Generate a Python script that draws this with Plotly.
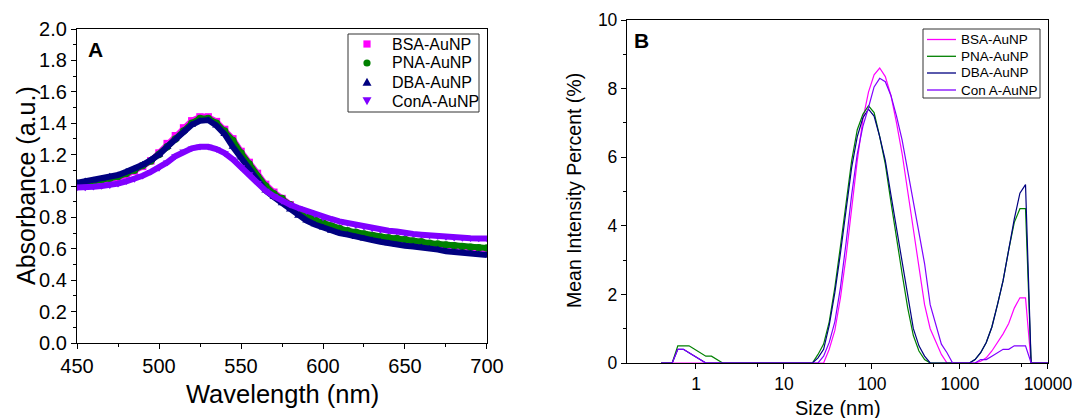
import plotly.graph_objects as go

# ---------------- Panel A data (UV-Vis absorbance) ----------------
wavelength = [450, 455, 460, 465, 470, 475, 480, 485, 490, 495,
              500, 505, 510, 515, 520, 525, 530, 535, 540, 545,
              550, 555, 560, 565, 570, 575, 580, 585, 590, 595,
              600, 605, 610, 615, 620, 625, 630, 635, 640, 645,
              650, 655, 660, 665, 670, 675, 680, 685, 690, 695, 700]

abs_bsa = [1.00, 1.01, 1.02, 1.03, 1.04, 1.055, 1.07, 1.095, 1.125, 1.16,
           1.21, 1.27, 1.32, 1.37, 1.415, 1.44, 1.44, 1.41, 1.36, 1.30,
           1.22, 1.15, 1.08, 1.01, 0.96, 0.92, 0.88, 0.84, 0.805, 0.78,
           0.76, 0.74, 0.725, 0.71, 0.70, 0.69, 0.68, 0.67, 0.665, 0.66,
           0.655, 0.645, 0.64, 0.63, 0.625, 0.62, 0.615, 0.61, 0.605, 0.60, 0.60]

abs_pna = [1.01, 1.02, 1.03, 1.04, 1.05, 1.06, 1.08, 1.10, 1.13, 1.16,
           1.20, 1.25, 1.30, 1.35, 1.40, 1.43, 1.43, 1.40, 1.35, 1.29,
           1.21, 1.14, 1.06, 1.00, 0.95, 0.92, 0.88, 0.84, 0.81, 0.785,
           0.765, 0.745, 0.73, 0.715, 0.705, 0.695, 0.685, 0.675, 0.67, 0.665,
           0.66, 0.65, 0.645, 0.635, 0.63, 0.625, 0.62, 0.615, 0.61, 0.607, 0.605]

abs_dba = [1.02, 1.03, 1.035, 1.045, 1.06, 1.07, 1.09, 1.11, 1.135, 1.165,
           1.20, 1.25, 1.30, 1.35, 1.39, 1.415, 1.42, 1.385, 1.33, 1.25,
           1.18, 1.11, 1.04, 0.97, 0.93, 0.89, 0.85, 0.81, 0.78, 0.755,
           0.735, 0.715, 0.70, 0.69, 0.675, 0.665, 0.655, 0.645, 0.635, 0.625,
           0.62, 0.615, 0.61, 0.60, 0.595, 0.585, 0.58, 0.575, 0.57, 0.565, 0.56]

abs_cona = [0.99, 0.99, 0.995, 1.00, 1.005, 1.015, 1.03, 1.045, 1.065, 1.09,
            1.115, 1.15, 1.19, 1.22, 1.24, 1.25, 1.25, 1.235, 1.21, 1.17,
            1.12, 1.075, 1.02, 0.97, 0.935, 0.905, 0.88, 0.86, 0.84, 0.82,
            0.80, 0.79, 0.775, 0.765, 0.75, 0.74, 0.73, 0.72, 0.715, 0.71,
            0.70, 0.695, 0.69, 0.685, 0.68, 0.675, 0.67, 0.668, 0.667, 0.666, 0.665]

# ---------------- Panel B data (DLS size distribution) ----------------
size_nm = [0.4, 0.4632, 0.5364, 0.6212, 0.7194, 0.8332, 0.9649, 1.117, 1.294, 1.499,
           1.736, 2.010, 2.328, 2.696, 3.122, 3.615, 4.187, 4.849, 5.615, 6.503,
           7.531, 8.721, 10.10, 11.70, 13.54, 15.69, 18.17, 21.04, 24.36, 28.21,
           32.67, 37.84, 43.82, 50.75, 58.77, 68.06, 78.82, 91.28, 105.7, 122.4,
           141.8, 164.2, 190.1, 220.2, 255.0, 295.3, 342.0, 396.1, 458.7, 531.2,
           615.1, 712.4, 825.0, 955.4, 1106, 1281, 1484, 1718, 1990, 2305,
           2669, 3091, 3580, 4145, 4801, 5560, 6439, 7456, 8635, 10000]

int_bsa = [0, 0, 0, 0, 0, 0, 0, 0, 0, 0,
           0, 0, 0, 0, 0, 0, 0, 0, 0, 0,
           0, 0, 0, 0, 0, 0, 0, 0, 0, 0,
           0.4, 0.95, 1.9, 3.1, 4.5, 5.9, 7.1, 7.9, 8.4, 8.6,
           8.35, 7.8, 7.0, 6.1, 5.0, 3.9, 2.8, 1.7, 1.0, 0.6,
           0.25, 0, 0, 0, 0, 0, 0, 0.05, 0.15, 0.35,
           0.6, 0.85, 1.15, 1.6, 1.9, 1.9, 0, 0, 0, 0]

int_pna = [0, 0, 0, 0.5, 0.5, 0.5, 0.4, 0.3, 0.2, 0.2,
           0.1, 0, 0, 0, 0, 0, 0, 0, 0, 0,
           0, 0, 0, 0, 0, 0, 0, 0, 0.25, 0.55,
           1.2, 2.2, 3.4, 4.7, 5.9, 6.8, 7.25, 7.5, 7.3, 6.6,
           5.8, 4.7, 3.6, 2.6, 1.6, 0.8, 0.35, 0.1, 0, 0,
           0, 0, 0, 0, 0, 0, 0.1, 0.3, 0.6, 1.05,
           1.7, 2.4, 3.3, 4.1, 4.5, 4.5, 0, 0, 0, 0]

int_dba = [0, 0, 0, 0.4, 0.4, 0.3, 0.2, 0.1, 0, 0,
           0, 0, 0, 0, 0, 0, 0, 0, 0, 0,
           0, 0, 0, 0, 0, 0, 0, 0, 0.15, 0.4,
           1.1, 2.05, 3.2, 4.5, 5.7, 6.6, 7.15, 7.4, 7.2, 6.6,
           5.9, 4.9, 3.9, 2.9, 1.9, 1.0, 0.5, 0.2, 0, 0,
           0, 0, 0, 0, 0, 0, 0.1, 0.3, 0.6, 1.05,
           1.7, 2.4, 3.3, 4.2, 4.95, 5.2, 0, 0, 0, 0]

int_cona = [0, 0, 0, 0.4, 0.4, 0.3, 0.2, 0.1, 0, 0,
            0, 0, 0, 0, 0, 0, 0, 0, 0, 0,
            0, 0, 0, 0, 0, 0, 0, 0, 0, 0.2,
            0.6, 1.2, 2.2, 3.5, 4.9, 6.1, 6.9, 7.45, 8.05, 8.3,
            8.2, 7.8, 7.2, 6.5, 5.6, 4.8, 3.8, 2.9, 1.7, 1.1,
            0.55, 0.3, 0, 0, 0, 0, 0, 0.1, 0.1, 0.2,
            0.3, 0.4, 0.4, 0.5, 0.5, 0.5, 0, 0, 0, 0]

names_a = ["BSA-AuNP", "PNA-AuNP", "DBA-AuNP", "ConA-AuNP"]
names_b = ["BSA-AuNP", "PNA-AuNP", "DBA-AuNP", "Con A-AuNP"]
colors = ["#FF00FF", "#008000", "#000080", "#8000FF"]
symbols = ["square", "circle", "triangle-up", "triangle-down"]

FONT = "Liberation Sans, Arial, sans-serif"
W, H = 1072, 418


def px_x(p):
    return p / W


def px_y(p):
    return (H - p) / H


fig = go.Figure()

series_a = [abs_bsa, abs_pna, abs_dba, abs_cona]
for name, col, sym, vals in zip(names_a, colors, symbols, series_a):
    fig.add_trace(go.Scatter(x=wavelength, y=vals, mode="lines",
                             line=dict(color=col, width=6), showlegend=False,
                             hoverinfo="skip", xaxis="x", yaxis="y"))
    fig.add_trace(go.Scatter(x=wavelength, y=vals, mode="markers", name=name,
                             marker=dict(color=col, symbol=sym, size=7.5),
                             showlegend=False, xaxis="x", yaxis="y"))

series_b = [int_bsa, int_pna, int_dba, int_cona]
for name, col, vals in zip(names_b, colors, series_b):
    fig.add_trace(go.Scatter(x=size_nm, y=vals, mode="lines", name=name,
                             line=dict(color=col, width=1.2), showlegend=False,
                             xaxis="x2", yaxis="y2"))

axis_common = dict(showline=True, linecolor="black", linewidth=1.3, mirror=True,
                   ticks="outside", ticklen=5, tickwidth=1.2, tickcolor="black",
                   showgrid=False, zeroline=False, color="black", automargin=False,
                   ticklabeloverflow="allow")

# ---------------- hand-built legends (box, symbols, text) ----------------
shapes = []
annotations = []

# Legend A
shapes.append(dict(type="rect", xref="paper", yref="paper",
                   x0=px_x(348), x1=px_x(479), y0=px_y(112), y1=px_y(34),
                   line=dict(color="#333333", width=1), fillcolor="white", layer="above"))
rows_a = [44, 63, 82, 101]
mx = 367
for name, col, sym, yc in zip(names_a, colors, symbols, rows_a):
    r = 3.6
    if sym == "square":
        shapes.append(dict(type="rect", xref="paper", yref="paper",
                           x0=px_x(mx - r), x1=px_x(mx + r), y0=px_y(yc + r), y1=px_y(yc - r),
                           line=dict(width=0), fillcolor=col, layer="above"))
    elif sym == "circle":
        shapes.append(dict(type="circle", xref="paper", yref="paper",
                           x0=px_x(mx - r), x1=px_x(mx + r), y0=px_y(yc + r), y1=px_y(yc - r),
                           line=dict(width=0), fillcolor=col, layer="above"))
    elif sym == "triangle-up":
        path = (f"M {px_x(mx - 4.5)} {px_y(yc + 3.8)} L {px_x(mx + 4.5)} {px_y(yc + 3.8)} "
                f"L {px_x(mx)} {px_y(yc - 4.2)} Z")
        shapes.append(dict(type="path", xref="paper", yref="paper", path=path,
                           line=dict(width=0), fillcolor=col, layer="above"))
    else:
        path = (f"M {px_x(mx - 4.5)} {px_y(yc - 3.8)} L {px_x(mx + 4.5)} {px_y(yc - 3.8)} "
                f"L {px_x(mx)} {px_y(yc + 4.2)} Z")
        shapes.append(dict(type="path", xref="paper", yref="paper", path=path,
                           line=dict(width=0), fillcolor=col, layer="above"))
    annotations.append(dict(text=name, x=px_x(390), y=px_y(yc), xref="paper", yref="paper",
                            showarrow=False, font=dict(size=16), xanchor="left",
                            yanchor="middle"))

# Legend B
shapes.append(dict(type="rect", xref="paper", yref="paper",
                   x0=px_x(923), x1=px_x(1040), y0=px_y(98), y1=px_y(29),
                   line=dict(color="#333333", width=1), fillcolor="white", layer="above"))
rows_b = [39.5, 56.3, 73, 90]
for name, col, yc in zip(names_b, colors, rows_b):
    shapes.append(dict(type="line", xref="paper", yref="paper",
                       x0=px_x(927), x1=px_x(956), y0=px_y(yc), y1=px_y(yc),
                       line=dict(color=col, width=1.3), layer="above"))
    annotations.append(dict(text=name, x=px_x(959), y=px_y(yc), xref="paper", yref="paper",
                            showarrow=False, font=dict(size=13.5), xanchor="left",
                            yanchor="middle"))

annotations += [
    dict(text="Absorbance (a.u.)", x=px_x(26), y=px_y(186), xref="paper", yref="paper",
         textangle=-90, showarrow=False, font=dict(size=25), xanchor="center", yanchor="middle"),
    dict(text="Wavelength (nm)", x=px_x(282), y=px_y(394), xref="paper", yref="paper",
         showarrow=False, font=dict(size=25.5), xanchor="center", yanchor="middle"),
    dict(text="<b>A</b>", x=px_x(86), y=px_y(36), xref="paper", yref="paper",
         showarrow=False, font=dict(size=21), xanchor="left", yanchor="top"),
    dict(text="Mean Intensity Percent (%)", x=px_x(574), y=px_y(191), xref="paper", yref="paper",
         textangle=-90, showarrow=False, font=dict(size=19.5), xanchor="center", yanchor="middle"),
    dict(text="Size (nm)", x=px_x(838), y=px_y(408), xref="paper", yref="paper",
         showarrow=False, font=dict(size=20), xanchor="center", yanchor="middle"),
    dict(text="<b>B</b>", x=px_x(632), y=px_y(27), xref="paper", yref="paper",
         showarrow=False, font=dict(size=21), xanchor="left", yanchor="top"),
]

fig.update_layout(
    width=W, height=H,
    margin=dict(l=0, r=0, t=0, b=0, autoexpand=False),
    paper_bgcolor="white", plot_bgcolor="white",
    font=dict(family=FONT, color="black"),
    showlegend=False,
    xaxis=dict(domain=[px_x(77), px_x(487)], range=[449.99, 700.01],
               tickvals=[450, 500, 550, 600, 650, 700],
               tickfont=dict(size=20),
               minor=dict(tickvals=[475, 525, 575, 625, 675], ticklen=3,
                          ticks="outside", tickcolor="black"),
               anchor="y", **axis_common),
    yaxis=dict(domain=[px_y(343), px_y(29)], range=[0, 2.0], dtick=0.2,
               tickformat=".1f", tickfont=dict(size=20),
               minor=dict(dtick=0.1, ticklen=3, ticks="outside", tickcolor="black"),
               anchor="x", **axis_common),
    xaxis2=dict(domain=[px_x(627), px_x(1048)], type="log", range=[-0.784, 4.0005],
                tickvals=[1, 10, 100, 1000, 10000],
                ticktext=["1", "10", "100", "1000", "10000"],
                tickfont=dict(size=17.5),
                minor=dict(tickvals=[5, 50, 500, 5000], ticklen=3,
                           ticks="outside", tickcolor="black"),
                anchor="y2", **axis_common),
    yaxis2=dict(domain=[px_y(363), px_y(20)], range=[0, 10], dtick=2,
                tickfont=dict(size=17.5),
                minor=dict(dtick=1, ticklen=3, ticks="outside", tickcolor="black"),
                anchor="x2", **axis_common),
    shapes=shapes,
    annotations=annotations,
)

fig.write_html("out.html")
